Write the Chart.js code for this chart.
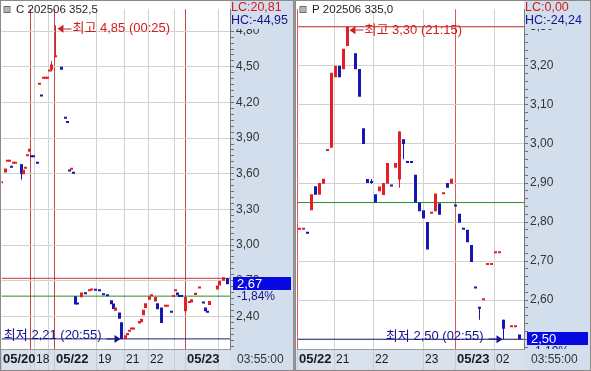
<!DOCTYPE html>
<html>
<head>
<meta charset="utf-8">
<script src="https://cdn.jsdelivr.net/npm/chart.js@4.4.1/dist/chart.umd.min.js"></script>
<style>
  html, body { margin: 0; padding: 0; background: #fff; }
  #wrap { position: relative; width: 591px; height: 371px; background: #9c9c9c; overflow: hidden; }
  #c1 { position: absolute; left: 0; top: 0; }
  #c2 { position: absolute; left: 295px; top: 0; }
</style>
</head>
<body>
<div id="wrap">
  <canvas id="c1" width="294" height="371"></canvas>
  <canvas id="c2" width="296" height="371"></canvas>
</div>
<script>
// ---- left panel: C 202506 352,5 (5-min candles, slot = half a candle step) ----
var leftSlots = [0, 2, 3, 4, 5, 6, 7, 10, 11, 12, 13, 14, 15, 16, 18, 19, 20, 21, 22, 23,
                 24, 25, 27, 30, 32, 33, 34, 35, 36, 37, 38, 40, 42, 44, 45, 47, 49, 51, 53, 55,
                 56, 57, 59, 60, 62, 63, 64, 65, 66, 69, 70, 71, 72, 74, 75, 77, 78, 80, 82, 83,
                 85, 86, 87, 88, 89, 90, 92, 94, 95, 97, 99, 101, 102, 103, 104, 108, 109, 111, 113];
var leftOpen  = [3.52, 3.61, 3.70, 3.70, 3.651, 3.684, 3.684, 3.68, 3.596, 3.643, 3.747, 3.785, 3.739, 3.739, 3.684, 4.35, 4.25, 4.40, 4.40, 4.40,
                 4.46, 4.475, 4.58, 4.50, 4.063, 4.028, 3.618, 3.634, 3.601, 2.57, 2.50, 2.56, 2.585, 2.612, 2.618, 2.615, 2.612, 2.577, 2.57, 2.535,
                 2.508, 2.447, 2.433, 2.35, 2.21, 2.24, 2.27, 2.29, 2.29, 2.34, 2.35, 2.41, 2.47, 2.54, 2.57, 2.524, 2.51, 2.475, 2.48, 2.48,
                 2.43, 2.563, 2.612, 2.60, 2.563, 2.563, 2.442, 2.513, 2.516, 2.58, 2.635, 2.508, 2.474, 2.43, 2.495, 2.625, 2.66, 2.70, 2.72];
var leftClose = [3.52, 3.645, 3.70, 3.70, 3.651, 3.684, 3.684, 3.60, 3.634, 3.643, 3.747, 3.81, 3.739, 3.739, 3.684, 4.35, 4.25, 4.40, 4.40, 4.40,
                 4.46, 4.52, 4.58, 4.475, 4.063, 4.028, 3.618, 3.634, 3.601, 2.50, 2.50, 2.60, 2.585, 2.612, 2.618, 2.615, 2.612, 2.577, 2.57, 2.502,
                 2.461, 2.474, 2.379, 2.21, 2.24, 2.26, 2.27, 2.29, 2.29, 2.36, 2.38, 2.455, 2.51, 2.57, 2.57, 2.563, 2.46, 2.343, 2.48, 2.48,
                 2.43, 2.563, 2.612, 2.577, 2.563, 2.563, 2.563, 2.516, 2.544, 2.598, 2.635, 2.508, 2.442, 2.43, 2.53, 2.66, 2.70, 2.728, 2.67];
var leftWickSlots = [10, 25, 27];
var leftWickLow   = [3.552, 4.46, 4.58];
var leftWickHigh  = [3.68, 4.55, 4.85];
var leftRefLines  = [2.72, 2.57, 2.21];
var leftPriceLabels = [2.40, 2.70, 3.00, 3.30, 3.60, 3.90, 4.20, 4.50, 4.80];
var leftTimeTicks  = [0, 14.5, 16.5, 23.5, 26.5, 47.5, 61.5, 73.5, 86.5, 92, 108.5];
var leftTimeLabels = ['05/20', '', '18', '', '05/22', '19', '21', '22', '', '05/23', ''];
var leftDayBreaks  = [14.5, 26.5, 92];

// ---- right panel: P 202506 335,0 ----
var rightSlots = [1, 3, 5, 7, 9, 11, 13, 15, 17, 19, 21, 23, 25, 29, 31, 33, 35, 37, 39, 41,
                  43, 45, 47, 49, 51, 53, 55, 57, 59, 61, 63, 65, 67, 69, 71, 73, 75, 77, 79, 81,
                  83, 85, 87, 89, 91, 93, 95, 97, 99, 101, 103, 107, 109, 111];
var rightOpen  = [2.78, 2.78, 2.77, 2.83, 2.892, 2.87, 2.898, 2.982, 2.99, 3.171, 3.20, 3.191, 3.251, 3.232, 3.192, 3.04, 2.91, 2.90, 2.871, 2.879,
                  2.869, 2.898, 2.891, 2.939, 2.909, 3.012, 2.951, 2.951, 2.921, 2.85, 2.83, 2.80, 2.821, 2.828, 2.848, 2.871, 2.90, 2.898, 2.84, 2.821,
                  2.78, 2.78, 2.741, 2.63, 2.58, 2.60, 2.69, 2.69, 2.72, 2.72, 2.55, 2.531, 2.531, 2.512];
var rightClose = [2.78, 2.78, 2.77, 2.871, 2.87, 2.90, 2.911, 2.982, 3.182, 3.20, 3.171, 3.244, 3.30, 3.191, 3.121, 3.00, 2.90, 2.90, 2.85, 2.891,
                  2.90, 2.951, 2.891, 2.951, 3.032, 3.00, 2.951, 2.951, 2.85, 2.828, 2.809, 2.73, 2.821, 2.873, 2.819, 2.871, 2.888, 2.911, 2.84, 2.798,
                  2.78, 2.748, 2.698, 2.63, 2.578, 2.60, 2.69, 2.69, 2.72, 2.72, 2.527, 2.531, 2.531, 2.50];
var rightWickSlots = [37, 51, 53, 91, 103];
var rightWickLow   = [2.898, 2.888, 2.961, 2.55, 2.50];
var rightWickHigh  = [2.91, 3.032, 3.012, 2.58, 2.55];
var rightRefLines  = [3.30, 2.85, 2.50];
var rightPriceLabels = [2.50, 2.60, 2.70, 2.80, 2.90, 3.00, 3.10, 3.20, 3.30];
var rightTimeTicks  = [0, 18.5, 38, 63, 79, 98.5];
var rightTimeLabels = ['05/22', '21', '22', '23', '05/23', '02'];
var rightDayBreaks  = [0, 79];

var UP = '#e21f24', DOWN = '#1616b0', NAVY = '#14148c', RED_TXT = '#d21c1c';
var AXIS_BG = '#d3deec', STRIP_BG = '#d8e1ec', GRID = '#d2d2d2';
var REF_COLORS = ['#cc3030', '#2f8a2f', '#1c1c86'];
var FONT = "'Liberation Sans', 'Noto Sans CJK KR', sans-serif";

Chart.defaults.font.family = FONT;
Chart.defaults.font.size = 12;
Chart.defaults.color = '#333';

var leftPanel = {
  canvas: 'c1', slots: leftSlots, open: leftOpen, close: leftClose,
  wickSlots: leftWickSlots, wickLow: leftWickLow, wickHigh: leftWickHigh,
  refLines: leftRefLines, priceLabels: leftPriceLabels, minorStep: 0.05,
  timeTicks: leftTimeTicks, timeLabels: leftTimeLabels, dayBreaks: leftDayBreaks, dayColor: '#c24848',
  xMax: 114.25, yMin: 2.125, yMax: 4.985, padLeft: 1.5, axisWidth: 64,
  title: 'C 202506 352,5', lc: 'LC:20,81', hc: 'HC:-44,95',
  highSlot: 27, highValue: 4.85, highText: '최고 4,85 (00:25)',
  lowSlot: 60, lowValue: 2.21, lowText: '최저 2,21 (20:55)',
  last: 2.67, lastText: '2,67', changeText: '-1,84%', clock: '03:55:00'
};
var rightPanel = {
  canvas: 'c2', slots: rightSlots, open: rightOpen, close: rightClose,
  wickSlots: rightWickSlots, wickLow: rightWickLow, wickHigh: rightWickHigh,
  refLines: rightRefLines, priceLabels: rightPriceLabels, minorStep: 0.02,
  timeTicks: rightTimeTicks, timeLabels: rightTimeLabels, dayBreaks: rightDayBreaks, dayColor: '#e25656',
  xMax: 113.25, yMin: 2.475, yMax: 3.345, padLeft: 2.5, axisWidth: 67,
  title: 'P 202506 335,0', lc: 'LC:0,00', hc: 'HC:-24,24',
  highSlot: 25, highValue: 3.30, highText: '최고 3,30 (21:15)',
  lowSlot: 103, lowValue: 2.50, lowText: '최저 2,50 (02:55)',
  last: 2.50, lastText: '2,50', changeText: '-1,19%', clock: '03:55:00'
};

// red = close above open, blue = below; flat bars follow the move from the previous close
function candleColors(open, close) {
  var out = [], prev = null, last = UP;
  for (var i = 0; i < open.length; i++) {
    var c;
    if (close[i] > open[i]) c = UP;
    else if (close[i] < open[i]) c = DOWN;
    else if (prev === null || close[i] === prev) c = last;
    else c = close[i] > prev ? UP : DOWN;
    out.push(c);
    last = c;
    prev = close[i];
  }
  return out;
}

function priceFmt(v) { return v.toFixed(2).replace('.', ','); }

function isLabelled(p, v) {
  for (var i = 0; i < p.priceLabels.length; i++) {
    if (Math.abs(p.priceLabels[i] - v) < 1e-6) return true;
  }
  return false;
}

function minorTicks(p) {
  var out = [];
  var k0 = Math.ceil(p.yMin / p.minorStep - 1e-9), k1 = Math.floor(p.yMax / p.minorStep + 1e-9);
  for (var k = k0; k <= k1; k++) out.push({ value: +(k * p.minorStep).toFixed(4) });
  return out;
}

function font(size, weight) { return (weight ? weight + ' ' : '') + size + 'px ' + FONT; }

function arrowLeft(ctx, x, y, color) {
  ctx.fillStyle = color;
  ctx.beginPath(); ctx.moveTo(x, y); ctx.lineTo(x + 6, y - 4); ctx.lineTo(x + 6, y + 4); ctx.closePath(); ctx.fill();
  ctx.fillRect(x + 6, Math.round(y) - 0.5, 8, 1);
}
function arrowRight(ctx, x, y, color) {
  ctx.fillStyle = color;
  ctx.beginPath(); ctx.moveTo(x, y); ctx.lineTo(x - 6, y - 4); ctx.lineTo(x - 6, y + 4); ctx.closePath(); ctx.fill();
  ctx.fillRect(x - 14, Math.round(y) - 0.5, 8, 1);
}

function panelPlugin(p) {
  return {
    id: 'panel',
    beforeDraw: function(chart) {
      var ctx = chart.ctx, a = chart.chartArea;
      ctx.save();
      ctx.fillStyle = '#fff';
      ctx.fillRect(0, 0, chart.width, chart.height);
      ctx.fillStyle = AXIS_BG;
      ctx.fillRect(a.right, 0, chart.width - a.right, chart.height);
      ctx.fillStyle = STRIP_BG;
      ctx.fillRect(0, a.bottom, a.right, chart.height - a.bottom);
      ctx.restore();
    },
    afterDraw: function(chart) {
      var ctx = chart.ctx, a = chart.chartArea, xs = chart.scales.x, ys = chart.scales.y;
      var W = chart.width, H = chart.height;
      ctx.save();
      ctx.textBaseline = 'middle';
      ctx.textAlign = 'left';

      // title
      ctx.fillStyle = '#b4b4b4';
      ctx.fillRect(a.left + 3, 7, 5, 5);
      ctx.strokeStyle = '#6a6a6a';
      ctx.lineWidth = 1;
      ctx.strokeRect(a.left + 2.5, 6.5, 6, 6);
      ctx.font = font(11.5);
      ctx.fillStyle = '#1e1e1e';
      ctx.fillText(p.title, a.left + 14.5, 10);

      // LC / HC header on the price axis
      ctx.fillStyle = AXIS_BG;
      ctx.fillRect(a.right + 1, 1, W - a.right - 2, 28);
      ctx.font = font(12.5);
      ctx.fillStyle = RED_TXT;
      ctx.fillText(p.lc, a.right + 1, 8);
      ctx.fillStyle = NAVY;
      ctx.fillText(p.hc, a.right + 1, 21);

      // high marker
      var hx = xs.getPixelForValue(p.highSlot) + 2, hy = ys.getPixelForValue(p.highValue) + 3.5;
      arrowLeft(ctx, hx, hy, RED_TXT);
      ctx.font = font(13);
      ctx.fillStyle = RED_TXT;
      ctx.fillText(p.highText, hx + 15, hy);

      // low marker
      var lx = xs.getPixelForValue(p.lowSlot) - 1, ly = ys.getPixelForValue(p.lowValue);
      arrowRight(ctx, lx, ly, NAVY);
      ctx.fillStyle = NAVY;
      ctx.textAlign = 'right';
      ctx.fillText(p.lowText, lx - 19, ly - 3);
      ctx.textAlign = 'left';

      // last price box
      var py = ys.getPixelForValue(p.last);
      ctx.fillStyle = '#0808e0';
      ctx.fillRect(a.right + 3, Math.round(py) - 7, W - a.right - 6, 13);
      ctx.fillStyle = '#fff';
      ctx.font = font(13);
      ctx.fillText(p.lastText, a.right + 7, py);
      ctx.save();
      ctx.beginPath();
      ctx.rect(a.right + 1, 0, W - a.right, a.bottom);
      ctx.clip();
      ctx.fillStyle = NAVY;
      ctx.font = font(12);
      ctx.fillText(p.changeText, a.right + 7, py + 12);
      ctx.restore();

      // clock in the corner
      ctx.fillStyle = '#333';
      ctx.font = font(12);
      ctx.fillText(p.clock, a.right + 7, 360);

      // frame
      ctx.strokeStyle = '#8a8a8a';
      ctx.strokeRect(0.5, 0.5, W - 1, H - 1);
      ctx.restore();
    }
  };
}

function buildChart(p) {
  var colors = candleColors(p.open, p.close);
  var bodies = p.slots.map(function(t, i) { return { x: t, y: [p.open[i], p.close[i]] }; });
  var wicks = p.wickSlots.map(function(t, i) { return { x: t, y: [p.wickLow[i], p.wickHigh[i]] }; });
  var wickColors = p.wickSlots.map(function(t) { return colors[p.slots.indexOf(t)]; });

  var datasets = [
    { type: 'bar', data: bodies, backgroundColor: colors, barThickness: 3, minBarLength: 2,
      grouped: false, borderWidth: 0, inflateAmount: 0, order: 1 },
    { type: 'bar', data: wicks, backgroundColor: wickColors, barThickness: 1,
      grouped: false, borderWidth: 0, inflateAmount: 0, order: 2 }
  ];
  p.refLines.forEach(function(v, i) {
    datasets.push({ type: 'line', data: [{ x: 0, y: v }, { x: p.xMax, y: v }],
      borderColor: REF_COLORS[i], borderWidth: 1, pointRadius: 0, order: 3 });
  });

  return new Chart(document.getElementById(p.canvas), {
    type: 'bar',
    data: { datasets: datasets },
    options: {
      responsive: false,
      animation: false,
      layout: { padding: { left: p.padLeft, top: 2, right: 0, bottom: 0 } },
      plugins: { legend: { display: false }, tooltip: { enabled: false } },
      scales: {
        x: {
          type: 'linear', min: 0, max: p.xMax, offset: false,
          afterBuildTicks: function(s) { s.ticks = p.timeTicks.map(function(v) { return { value: v }; }); },
          afterFit: function(s) { s.height = 22; },
          grid: {
            offset: false, drawTicks: true, tickLength: 22,
            color: function(c) {
              if (!c.tick) return GRID;
              if (p.dayBreaks.indexOf(c.tick.value) >= 0) return p.dayColor;
              return c.tick.value === 0 ? 'rgba(0,0,0,0)' : GRID;
            },
            tickColor: '#c3ccd8'
          },
          border: { color: '#9a9a9a' },
          ticks: {
            autoSkip: false, maxRotation: 0, minRotation: 0, align: 'start',
            labelOffset: 1.5, padding: -19, color: '#1a1a1a',
            callback: function(v) { var i = p.timeTicks.indexOf(v); return i >= 0 ? p.timeLabels[i] : ''; },
            font: function(c) {
              var lab = c.tick ? c.tick.label : '';
              return /\//.test(lab) ? { size: 13, weight: 'bold' } : { size: 12 };
            }
          }
        },
        y: {
          position: 'right', min: p.yMin, max: p.yMax,
          afterBuildTicks: function(s) { s.ticks = minorTicks(p); },
          afterFit: function(s) { s.width = p.axisWidth; },
          grid: {
            drawTicks: true, tickLength: 4,
            color: function(c) { return c.tick && isLabelled(p, c.tick.value) ? GRID : 'rgba(0,0,0,0)'; },
            tickColor: '#707070'
          },
          border: { color: '#7a7a7a' },
          ticks: {
            autoSkip: false, padding: 2, color: '#333', font: { size: 12 },
            callback: function(v) { return isLabelled(p, v) ? priceFmt(v) : ''; }
          }
        }
      }
    },
    plugins: [panelPlugin(p)]
  });
}

buildChart(leftPanel);
buildChart(rightPanel);
</script>
</body>
</html>
